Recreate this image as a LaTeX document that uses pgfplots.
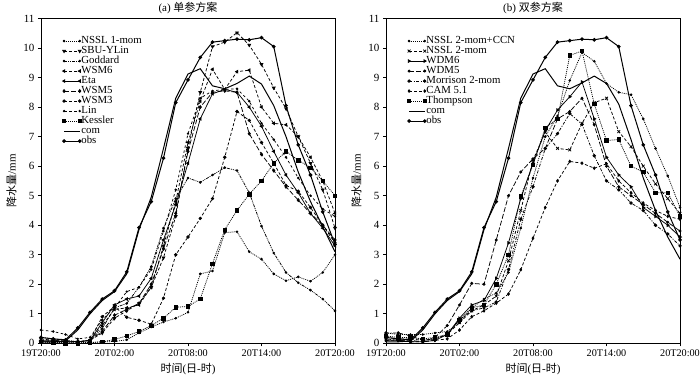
\documentclass[border=0pt]{standalone}
\usepackage{fontspec}
\setmainfont{Liberation Serif}
\newfontfamily\cjk{Noto Sans CJK SC}
\usepackage{pgfplots}
\pgfplotsset{compat=1.18}

\pgfplotsset{
  myaxis/.style={
    scale only axis, width=294pt, height=324.8pt,
    xmin=0,xmax=24,ymin=0,ymax=11,
    xtick={0,6,12,18,24},
    xticklabels={19T20:00,20T02:00,20T08:00,20T14:00,20T20:00},
    ytick={0,1,...,11},
    tick align=outside, xtick pos=bottom, ytick pos=left,
    major tick length=3pt,
    axis line style={line width=0.9pt},
    every tick/.style={black, line width=0.8pt},
    yticklabel style={font=\fontsize{11}{11}\selectfont},
    xticklabel style={font=\fontsize{10.2}{11}\selectfont},
    /pgf/number format/assume math mode=true,
    label style={font=\fontsize{11}{11}\selectfont},
    title style={font=\fontsize{11}{11}\selectfont, yshift=-5pt},
    ylabel={{\cjk 降水量}/mm},
    xlabel={{\cjk 时间}({\cjk 日}-{\cjk 时})},
    legend cell align=left,
    legend style={draw=none, fill=none, at={(0.072,0.945)}, anchor=north west,
      inner xsep=0pt, inner ysep=0pt, row sep=1pt,
      font=\fontsize{10.8}{10}\selectfont,
      nodes={inner sep=0pt, text height=7pt, text depth=2pt, font=\fontsize{10.8}{10}\selectfont}},
    legend image code/.code={\draw[#1] plot coordinates {(0cm,0cm) (0.55cm,0cm)};},
    every axis plot/.append style={black, line width=0.75pt, mark size=1.1pt},
  },
  dotl/.style={dash pattern=on 1pt off 1pt},
  dashl/.style={dash pattern=on 3pt off 2pt},
  longd/.style={dash pattern=on 5pt off 2pt},
  dashdot/.style={dash pattern=on 3pt off 1.5pt on 1pt off 1.5pt},
  dashdotdot/.style={dash pattern=on 3pt off 1pt on 1pt off 1pt on 1pt off 1pt},
}

\begin{document}
\begin{tikzpicture}
\useasboundingbox (-41pt,-40.7pt) rectangle (659pt,343.3pt);
% ---------------- (a) ----------------
\begin{axis}[myaxis, at={(0pt,0pt)}, title={(a) {\cjk 单参方案}}]
% NSSL 1-mom
\addplot[dotl, mark=*, mark size=0.9pt, mark options={solid}] coordinates {
(0,0.05)(1,0.03)(2,0.02)(3,0.02)(4,0.03)(5,0.05)(6,0.06)(7,0.12)(8,0.35)(9,0.55)(10,0.72)(11,0.85)(12,1.05)(13,2.35)(14,2.45)(15,3.75)(16,3.78)(17,3.1)(18,2.85)(19,2.35)(20,2.12)(21,2.25)(22,2.1)(23,2.4)(24,3.0)};
\addlegendentry{NSSL 1-mom}
% SBU-YLin
\addplot[dashl, mark=triangle*, mark size=1.6pt, mark options={solid,rotate=180}] coordinates {
(0,0.15)(1,0.1)(2,0.1)(3,0.05)(4,0.1)(5,0.35)(6,0.85)(7,1.1)(8,1.35)(9,1.9)(10,2.9)(11,4.3)(12,6.6)(13,8.5)(14,10.05)(15,10.2)(16,10.52)(17,10.1)(18,9.45)(19,8.65)(20,7.95)(21,7.0)(22,6.1)(23,5.2)(24,3.9)};
\addlegendentry{SBU-YLin}
% Goddard
\addplot[dashdotdot, mark=*, mark size=0.9pt, mark options={solid}] coordinates {
(0,0.2)(1,0.15)(2,0.1)(3,0.05)(4,0.1)(5,0.5)(6,1.2)(7,1.35)(8,1.9)(9,2.6)(10,3.9)(11,4.9)(12,5.6)(13,5.45)(14,5.7)(15,5.95)(16,5.85)(17,5.1)(18,3.97)(19,3.06)(20,2.4)(21,2.05)(22,1.8)(23,1.5)(24,1.1)};
\addlegendentry{Goddard}
% WSM6
\addplot[dashl, mark=triangle*, mark size=1.5pt, mark options={solid,rotate=90}] coordinates {
(0,0.1)(1,0.1)(2,0.05)(3,0.05)(4,0.1)(5,0.6)(6,1.15)(7,1.2)(8,1.3)(9,1.9)(10,3.3)(11,4.8)(12,6.8)(13,8.2)(14,9.28)(15,8.6)(16,9.2)(17,9.25)(18,8.0)(19,7.45)(20,7.4)(21,7.0)(22,6.3)(23,5.5)(24,4.4)};
\addlegendentry{WSM6}
% Eta
\addplot[solid, mark=triangle*, mark size=1.5pt, mark options={solid,rotate=90}] coordinates {
(0,0.05)(1,0.05)(2,0.05)(3,0.05)(4,0.1)(5,0.7)(6,1.3)(7,1.5)(8,1.6)(9,2.2)(10,3.5)(11,4.7)(12,6.1)(13,7.6)(14,8.45)(15,8.6)(16,8.5)(17,8.0)(18,7.35)(19,6.5)(20,5.7)(21,5.1)(22,4.4)(23,3.9)(24,3.3)};
\addlegendentry{Eta}
% WSM5
\addplot[longd, mark=diamond*, mark size=1.5pt, mark options={solid}] coordinates {
(0,0.1)(1,0.1)(2,0.05)(3,0.05)(4,0.1)(5,0.4)(6,0.95)(7,1.15)(8,1.35)(9,2.0)(10,3.2)(11,4.4)(12,6.5)(13,8.0)(14,8.5)(15,8.55)(16,8.5)(17,7.1)(18,6.4)(19,5.85)(20,5.3)(21,4.85)(22,4.4)(23,4.0)(24,3.5)};
\addlegendentry{WSM5}
% WSM3
\addplot[dashl, mark=*, mark size=1.3pt, mark options={solid}] coordinates {
(0,0.1)(1,0.05)(2,0.05)(3,0.05)(4,0.1)(5,0.9)(6,1.25)(7,0.88)(8,0.78)(9,0.65)(10,1.53)(11,3.0)(12,3.6)(13,4.23)(14,4.9)(15,6.3)(16,7.85)(17,7.55)(18,6.8)(19,6.1)(20,5.35)(21,5.15)(22,4.6)(23,4.0)(24,3.4)};
\addlegendentry{WSM3}
% Lin
\addplot[dash pattern=on 2.5pt off 2.5pt, mark=*, mark size=0.8pt, mark options={solid}] coordinates {
(0,0.45)(1,0.4)(2,0.3)(3,0.15)(4,0.2)(5,0.8)(6,1.2)(7,1.75)(8,1.9)(9,2.5)(10,3.8)(11,5.2)(12,7.1)(13,8.3)(14,8.55)(15,8.6)(16,8.62)(17,8.2)(18,7.45)(19,6.9)(20,6.3)(21,5.6)(22,5.0)(23,4.55)(24,4.3)};
\addlegendentry{Lin}
% Kessler
\addplot[dotl, mark=square*, mark size=1.7pt, mark options={solid}] coordinates {
(0,0.05)(1,0.02)(2,0.0)(3,0.0)(4,0.02)(5,0.05)(6,0.13)(7,0.25)(8,0.4)(9,0.6)(10,0.85)(11,1.22)(12,1.25)(13,1.5)(14,2.7)(15,3.85)(16,4.5)(17,5.05)(18,5.5)(19,6.1)(20,6.5)(21,6.2)(22,5.95)(23,5.5)(24,5.0)};
\addlegendentry{Kessler}
% com
\addplot[solid, line width=1pt, no marks] coordinates {
(0,0.05)(1,0.05)(2,0.08)(3,0.45)(4,1.0)(5,1.45)(6,1.75)(7,2.35)(8,3.85)(9,4.95)(10,6.6)(11,8.3)(12,9.12)(13,9.3)(14,8.72)(15,8.62)(16,8.8)(17,9.05)(18,8.78)(19,8.05)(20,7.0)(21,5.8)(22,4.8)(23,3.95)(24,3.1)};
\addlegendentry{com}
% obs
\addplot[solid, line width=1pt, mark=*, mark size=1.3pt] coordinates {
(0,0.2)(1,0.15)(2,0.12)(3,0.52)(4,1.05)(5,1.5)(6,1.78)(7,2.42)(8,3.92)(9,4.8)(10,6.27)(11,8.15)(12,8.92)(13,9.68)(14,10.2)(15,10.25)(16,10.3)(17,10.28)(18,10.35)(19,10.05)(20,8.05)(21,6.72)(22,5.7)(23,4.45)(24,3.35)};
\addlegendentry{obs}
\end{axis}
% ---------------- (b) ----------------
\begin{axis}[myaxis, at={(345pt,0pt)}, title={(b) {\cjk 双参方案}}]
% NSSL 2-mom+CCN
\addplot[dotl, mark=*, mark size=0.9pt, mark options={solid}] coordinates {
(0,0.35)(1,0.3)(2,0.3)(3,0.3)(4,0.35)(5,0.4)(6,0.7)(7,1.2)(8,1.5)(9,1.7)(10,2.4)(11,3.9)(12,5.6)(13,7.0)(14,7.7)(15,8.9)(16,9.85)(17,9.55)(18,8.8)(19,8.5)(20,8.42)(21,7.6)(22,6.6)(23,5.67)(24,4.6)};
\addlegendentry{NSSL 2-mom+CCN}
% NSSL 2-mom
\addplot[dashl, mark=x, mark size=2pt, mark options={solid}] coordinates {
(0,0.2)(1,0.15)(2,0.15)(3,0.1)(4,0.15)(5,0.3)(6,0.7)(7,1.1)(8,1.3)(9,1.6)(10,2.8)(11,4.5)(12,6.2)(13,7.15)(14,6.6)(15,6.55)(16,7.45)(17,8.15)(18,8.3)(19,7.17)(20,6.66)(21,6.0)(22,5.4)(23,4.9)(24,4.4)};
\addlegendentry{NSSL 2-mom}
% WDM6
\addplot[solid, mark=triangle*, mark size=1.5pt, mark options={solid,rotate=-90}] coordinates {
(0,0.1)(1,0.1)(2,0.05)(3,0.05)(4,0.1)(5,0.3)(6,0.85)(7,1.3)(8,1.45)(9,2.2)(10,3.4)(11,4.9)(12,6.1)(13,7.2)(14,7.9)(15,8.35)(16,8.85)(17,7.6)(18,6.3)(19,5.7)(20,5.3)(21,4.6)(22,4.3)(23,4.0)(24,3.6)};
\addlegendentry{WDM6}
% WDM5
\addplot[longd, mark=*, mark size=1.1pt, mark options={solid}] coordinates {
(0,0.15)(1,0.1)(2,0.1)(3,0.05)(4,0.2)(5,0.6)(6,1.3)(7,2.03)(8,2.0)(9,3.5)(10,5.0)(11,5.8)(12,6.25)(13,6.6)(14,7.6)(15,7.85)(16,8.3)(17,7.4)(18,6.0)(19,5.3)(20,5.0)(21,4.7)(22,4.4)(23,4.1)(24,3.8)};
\addlegendentry{WDM5}
% Morrison 2-mom
\addplot[dashdot, mark=*, mark size=1.3pt, mark options={solid}] coordinates {
(0,0.35)(1,0.35)(2,0.25)(3,0.1)(4,0.15)(5,0.3)(6,0.8)(7,1.1)(8,1.2)(9,1.4)(10,2.5)(11,4.2)(12,5.3)(13,6.6)(14,7.1)(15,7.78)(16,7.42)(17,6.35)(18,5.5)(19,5.2)(20,4.75)(21,4.5)(22,4.0)(23,3.7)(24,3.3)};
\addlegendentry{Morrison 2-mom}
% CAM 5.1
\addplot[dashl, mark=diamond*, mark size=1.3pt, mark options={solid}] coordinates {
(0,0.1)(1,0.1)(2,0.05)(3,0.05)(4,0.1)(5,0.15)(6,0.45)(7,0.9)(8,1.1)(9,1.36)(10,1.67)(11,2.49)(12,3.56)(13,4.6)(14,5.5)(15,6.16)(16,6.1)(17,5.93)(18,6.08)(19,5.5)(20,5.1)(21,4.75)(22,4.5)(23,4.3)(24,4.2)};
\addlegendentry{CAM 5.1}
% Thompson
\addplot[dotl, mark=square*, mark size=1.7pt, mark options={solid}] coordinates {
(0,0.25)(1,0.2)(2,0.2)(3,0.15)(4,0.2)(5,0.3)(6,0.8)(7,1.2)(8,1.3)(9,2.0)(10,3.0)(11,4.97)(12,6.04)(13,7.3)(14,7.6)(15,9.75)(16,9.9)(17,8.1)(18,6.87)(19,6.9)(20,6.0)(21,5.8)(22,5.1)(23,5.1)(24,4.3)};
\addlegendentry{Thompson}
% com
\addplot[solid, line width=1pt, no marks] coordinates {
(0,0.05)(1,0.05)(2,0.08)(3,0.45)(4,1.0)(5,1.45)(6,1.75)(7,2.35)(8,3.85)(9,4.95)(10,6.6)(11,8.3)(12,9.12)(13,9.3)(14,8.72)(15,8.62)(16,8.82)(17,9.05)(18,8.8)(19,8.1)(20,6.9)(21,5.6)(22,4.5)(23,3.6)(24,2.85)};
\addlegendentry{com}
% obs
\addplot[solid, line width=1pt, mark=*, mark size=1.3pt] coordinates {
(0,0.2)(1,0.15)(2,0.12)(3,0.52)(4,1.05)(5,1.5)(6,1.78)(7,2.42)(8,3.92)(9,4.8)(10,6.27)(11,8.15)(12,8.92)(13,9.68)(14,10.2)(15,10.25)(16,10.3)(17,10.28)(18,10.35)(19,10.05)(20,8.05)(21,6.72)(22,5.7)(23,4.45)(24,3.5)};
\addlegendentry{obs}
\end{axis}
\end{tikzpicture}
\end{document}
